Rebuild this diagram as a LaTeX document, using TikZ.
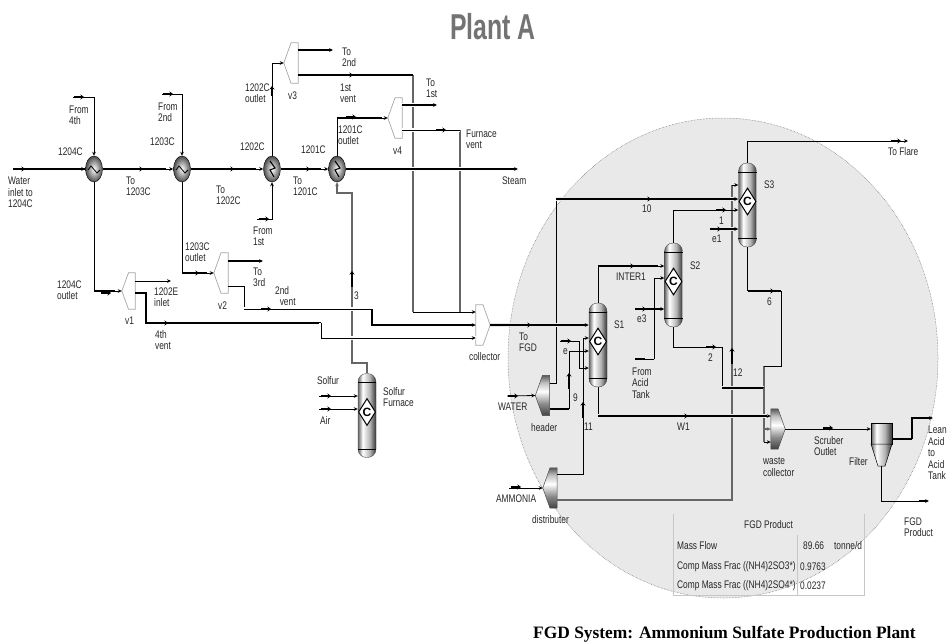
\documentclass[tikz,border=0pt]{standalone}
\usepackage{fontspec}
\setmainfont{Liberation Sans}
\newfontfamily\capfont{Liberation Serif}
\usetikzlibrary{arrows.meta}
\usetikzlibrary{calc}
\usetikzlibrary{shapes.geometric}
\definecolor{plantgrey}{HTML}{E9E9E9}
\pgfdeclarehorizontalshading{towershade}{100bp}{color(0bp)=(black!60);color(25bp)=(black!60);color(38bp)=(white);color(58bp)=(black!30);color(75bp)=(black!80);color(100bp)=(black!80)}
\pgfdeclareverticalshading{bandshade}{100bp}{color(0bp)=(black!75);color(25bp)=(black!75);color(40bp)=(black!45);color(55bp)=(white);color(66bp)=(black!25);color(75bp)=(black!65);color(100bp)=(black!65)}
\tikzset{
  >={Stealth[length=4pt,width=3.6pt]},
  pipe/.style={line width=0.8pt, color=black},
  heavy/.style={line width=1.7pt, color=black},
  greypipe/.style={line width=1.1pt, color=black!60},
  over/.style={preaction={draw=white, line width=3.4pt, arrows=-}},
  overg/.style={preaction={draw=plantgrey, line width=3.4pt, arrows=-}},
  lab/.style={anchor=west, inner sep=0pt, align=left, xscale=0.76, font=\fontsize{11}{11.4}\selectfont, text=black!85},
  tower/.style={draw=black!70, shading=towershade, rounded corners=8.5pt, minimum width=18pt, minimum height=84pt, inner sep=0pt},
  ctag/.style={diamond, draw=black, line width=1pt, fill=white, minimum width=17pt, minimum height=27pt, inner sep=0pt, font=\bfseries\fontsize{12}{12}\selectfont},
  exchanger/.style={ellipse, draw=black, inner color=white, outer color=black!70, minimum width=17pt, minimum height=26pt, inner sep=0pt},
  box/.style={minimum width=14pt, minimum height=40pt, inner sep=0pt},
  valvebody/.style={draw=black!35, line width=0.7pt, fill=white},
  vessel/.style={draw=black!70, line width=0.5pt, shading=bandshade},
  flow/.pic={\draw[line width=2pt, -{Stealth[length=3.5pt,width=5pt]}] (-9,0) -- (1,0);},
  flowlong/.pic={\draw[line width=1.7pt, -{Stealth[length=3.5pt,width=5pt]}] (-16,0) -- (0,0);}
}
\begin{document}
\begin{tikzpicture}[x=1pt,y=-1pt]
  \useasboundingbox (0,0) rectangle (947,642);

  % gas scrubbing area
  \draw[fill=plantgrey, draw=black!60, line width=0.5pt, densely dotted] (723,358) ellipse (215 and 240);
  \draw[color=black!22, line width=0.6pt] (673,514) -- (673,595) -- (864,595) -- (864,514);
  \draw[color=black!22, line width=0.6pt] (797,535) -- (797,595);

  % units
  \node[exchanger] (e1204) at (94,169) {};
  \node[exchanger] (e1203) at (182,169) {};
  \node[exchanger] (e1202) at (272,169) {};
  \node[exchanger] (e1201) at (337,169) {};
  \foreach \n in {e1204,e1203}
    \draw[line width=0.8pt] ($(\n)+(-6,1)$) -- ++(3,-4) -- ++(6,7) -- ++(3,-3);
  \foreach \n in {e1202,e1201}
    \draw[line width=1.1pt] ($(\n)+(-2,-8)$) -- ++(5,7) -- ++(-5,2) -- ++(4,7);

  \node[box, minimum width=13pt, minimum height=36pt] (v1) at (128.5,291) {};
  \node[box] (v2) at (221,273) {};
  \node[box] (v3) at (291,63) {};
  \node[box] (v4) at (395,118) {};
  \foreach \n in {v1,v2,v3,v4}
    \draw[valvebody] (\n.west) -- ($(\n.north west)!.5!(\n.north east)$) -- (\n.north east)
      -- (\n.south east) -- ($(\n.south west)!.5!(\n.south east)$) -- cycle;
  \node[box] (collector) at (483,325) {};
  \draw[valvebody] (collector.east) -- ($(collector.north west)!.5!(collector.north east)$) -- (collector.north west)
      -- (collector.south west) -- ($(collector.south west)!.5!(collector.south east)$) -- cycle;

  \node[box] (header) at (542.5,395.5) {};
  \node[box] (distributer) at (550,488) {};
  \foreach \n in {header,distributer}
    \draw[vessel] (\n.west) -- ($(\n.north west)!.5!(\n.north east)$) -- (\n.north east)
      -- (\n.south east) -- ($(\n.south west)!.5!(\n.south east)$) -- cycle;
  \node[box] (wastecol) at (778,429) {};
  \draw[vessel] (wastecol.east) -- ($(wastecol.north west)!.5!(wastecol.north east)$) -- (wastecol.north west)
      -- (wastecol.south west) -- ($(wastecol.south west)!.5!(wastecol.south east)$) -- cycle;

  \node[tower] (s1) at (598,345) {};
  \node[tower] (s2) at (673.5,285) {};
  \node[tower] (s3) at (747.5,205) {};
  \node[tower] (furnace) at (367,415.5) {};
  \foreach \n in {s1,s2,s3,furnace} {
    \draw[color=black] ($(\n.north west)+(0,9)$) -- ($(\n.north east)+(0,9)$);
    \draw[color=black] ($(\n.south west)+(0,-9)$) -- ($(\n.south east)+(0,-9)$);
    \node[ctag] (\n-c) at ($(\n)+(0,-3.5)$) {C};
  }

  \node[minimum width=21pt, minimum height=43pt, inner sep=0pt] (filter) at (881.5,444.5) {};
  \draw[draw=black, line width=0.5pt, shading=towershade] (871,423) rectangle (892,444);
  \draw[draw=black, line width=0.5pt, shading=towershade] (871,444) -- (892,444) -- (885,466) -- (878,466) -- cycle;

  % free ends and bends
  \coordinate (waterin) at (13,169);
  \coordinate (steamout) at (518,169);
  \coordinate (from4th) at (73,97);
  \coordinate (from2nd) at (162,94);
  \coordinate (from1st) at (257,219);
  \coordinate (to2nd) at (333,50);
  \coordinate (to1st) at (437,105);
  \coordinate (to3rd) at (263,261);
  \coordinate (to1202e) at (171,281);
  \coordinate (b4th) at (146,323);
  \coordinate (b4thb) at (321,323);
  \coordinate (b2nd) at (244,309);
  \coordinate (b2ndb) at (372,309);
  \coordinate (b1st) at (413,75);
  \coordinate (bvent) at (460,130);
  \coordinate (b3low) at (352,363);
  \coordinate (b3up) at (352,193);
  \coordinate (solfurin) at (319,396);
  \coordinate (airin) at (319,409);
  \coordinate (waterfeed) at (507,396);
  \coordinate (ammfeed) at (509,488);
  \coordinate (b10) at (556,199);
  \coordinate (b9) at (569,409);
  \coordinate (b9up) at (569,387);
  \coordinate (b11) at (583,338);
  \coordinate (b12) at (732,185);
  \coordinate (efeed) at (560,341);
  \coordinate (be) at (579,341);
  \coordinate (e3feed) at (635,309);
  \coordinate (acidfeed) at (635,359);
  \coordinate (bacid) at (654,359);
  \coordinate (e1feed) at (710,229);
  \coordinate (b1) at (673.5,210);
  \coordinate (binter) at (598,266);
  \coordinate (b2a) at (722,347);
  \coordinate (b2b) at (764,388);
  \coordinate (b6a) at (781,291);
  \coordinate (b6c) at (747.5,291);
  \coordinate (b6b) at (764,366);
  \coordinate (bw1) at (598,416);
  \coordinate (toflare) at (908,141);
  \coordinate (blean) at (912,439);
  \coordinate (leanout) at (933,418);
  \coordinate (fgdout) at (929,501);
  \coordinate (coltop) at ($(collector.west)+(0,-13)$);
  \coordinate (colbot) at ($(collector.west)+(0,13)$);
  \coordinate (wasteup) at ($(wastecol.west)+(0,-13)$);
  \coordinate (wastedn) at ($(wastecol.west)+(0,13)$);

  % streams running under the others
  \draw[greypipe,->] (furnace.north) |- (b3low) -- (b3up) -| (e1201.south);
  \draw[greypipe] (b1st) -- (coltop -| b1st);
  \draw[pipe,->] (coltop -| b1st) -- (coltop);
  \draw[greypipe] (bvent) -- (coltop -| bvent);
  \draw[pipe] (e1204.south) -- (e1204.south |- v1);
  \draw[pipe] (e1203.south) -- (e1203.south |- v2);
  \draw[pipe] ($(header.east)+(0,-12.5)$) -| (b10);
  \draw[pipe] ($(distributer.east)+(0,-14)$) -| (b11);
  \draw[pipe,->] (b11) -- ($(s1.west)+(0,-7)$);
  \draw[greypipe] ($(distributer.east)+(0,12)$) -| (b12);
  \draw[pipe,->] (b12) -- ($(s3.west)+(0,-20)$);
  \draw[heavy] (acidfeed) -- ++(10,0);
  \draw[pipe] (acidfeed) -- (bacid);
  \draw[pipe,->] (bacid) |- ($(s2.west)+(0,-7)$);
  \draw[greypipe] (b6b) -- (wastedn -| b6b);

  % main line
  \draw[heavy] (waterin) -- (e1204.west);
  \draw[pipe,->] ($(e1204.west)+(-9,0)$) -- (e1204.west);
  \draw[heavy] (e1204.east) -- ($(e1203.west)+(-7,0)$);
  \draw[pipe,->] ($(e1203.west)+(-8,0)$) -- (e1203.west);
  \draw[heavy] (e1203.east) -- ($(e1202.west)+(-7,0)$);
  \draw[pipe,->] ($(e1202.west)+(-8,0)$) -- (e1202.west);
  \draw[heavy] (e1202.east) -- ($(e1201.west)+(-7,0)$);
  \draw[pipe,->] ($(e1201.west)+(-8,0)$) -- (e1201.west);
  \draw[heavy,->,over] (e1201.east) -- (steamout);

  \draw[pipe,->] (from4th) -| (e1204.north);
  \draw[pipe,->] (from2nd) -| (e1203.north);
  \draw[pipe,->] (from1st) -| (e1202.south);
  \draw[pipe,->] (e1202.north) |- (v3.west);
  \draw[pipe] (e1201.north) |- ($(v4.west)+(-6,0)$);
  \draw[heavy] (e1201.north |- v4.west) -- ($(v4.west)+(-6,0)$);
  \draw[pipe,->] ($(v4.west)+(-7,0)$) -- (v4.west);

  % vents
  \draw[heavy] (e1204.south |- v1) -- ($(v1.west)+(-7,0)$);
  \draw[pipe,->] ($(v1.west)+(-8,0)$) -- (v1.west);
  \draw[heavy] (e1203.south |- v2) -- ($(v2.west)+(-7,0)$);
  \draw[pipe,->] ($(v2.west)+(-8,0)$) -- (v2.west);
  \draw[heavy,->] ($(v3.east)+(0,-13)$) -- (to2nd);
  \draw[heavy] ($(v3.east)+(0,12)$) -- (b1st);
  \draw[heavy,->,over] ($(v4.east)+(0,-13)$) -- (to1st);
  \draw[pipe,over] ($(v4.east)+(0,12)$) -- (bvent);
  \draw[pipe,->] ($(v1.east)+(0,-10)$) -- (to1202e);
  \draw[heavy] ($(v1.east)+(0,2)$) -| (b4th) -- (b4thb);
  \draw[pipe,->,over] (b4thb) |- (colbot);
  \draw[heavy,->] ($(v2.east)+(0,-12)$) -- (to3rd);
  \draw[pipe] ($(v2.east)+(0,13)$) -| (b2nd);
  \draw[pipe,over] (b2nd) -- (b2ndb);
  \draw[heavy,->] (b2ndb) |- (collector.west);

  % scrubber side
  \draw[pipe,->] (solfurin) -- ($(furnace.west)+(0,-19.5)$);
  \draw[pipe,->] (airin) -- ($(furnace.west)+(0,-6.5)$);
  \draw[pipe,->] (waterfeed) -- (header.west);
  \draw[pipe,->] (ammfeed) -- (distributer.west);
  \draw[heavy,->,overg] (collector.east) -- ($(s1.west)+(0,-20)$);
  \draw[heavy,->,overg] (b10) -- ($(s3.west)+(0,-6)$);
  \draw[pipe,->] (efeed) -- (be) |- ($(s1.west)+(0,23)$);
  \draw[heavy] ($(header.east)+(0,13.5)$) -| (b9);
  \draw[pipe,->] (b9) |- ($(s1.west)+(0,6)$);
  \draw[pipe,->] (s2.north) -- (b1) -- ($(s3.west)+(0,5)$);
  \draw[heavy,->,overg] (e1feed) -- ($(s3.west)+(0,24)$);
  \draw[pipe] (s1.north) -- (binter);
  \draw[heavy] (binter) -- ($(s2.west)+(-6,-19)$);
  \draw[pipe,->] ($(s2.west)+(-7,-19)$) -- ($(s2.west)+(0,-19)$);
  \draw[heavy,->] (e3feed) -- ($(s2.west)+(0,24)$);
  \draw[pipe] (s2.south) |- (b2a) |- (b2b);
  \draw[heavy,overg] (b2a |- b2b) -- (b2b);
  \draw[greypipe,->] (b2b) |- (wastecol.west);
  \draw[pipe] (s3.south) -- (b6c);
  \draw[heavy] (b6c) -- (b6a);
  \draw[pipe] (b6a) |- (b6b);
  \draw[pipe,->] (wastedn -| b6b) -- (wastedn);
  \draw[pipe] (s1.south) -- (bw1);
  \draw[heavy,overg] (bw1) -- ($(wasteup)+(-4,0)$);
  \draw[pipe,->] ($(wasteup)+(-5,0)$) -- (wasteup);
  \draw[pipe,->] (s3.north) |- (toflare);
  \draw[pipe,->] (wastecol.east) -- (wastecol.east -| filter.west);
  \draw[heavy] ($(filter.east)+(0,-5.5)$) -- (blean);
  \draw[heavy,->] (blean) |- (leanout);
  \draw[pipe] (filter.south) |- ($(fgdout)+(-8,0)$);
  \draw[heavy,->] ($(fgdout)+(-10,0)$) -- (fgdout);

  % flow marks
  \foreach \x/\y in {24/169,142/169,233/169,309/169,83/97,172/94,268/219,352/75,355/117,445/130,
    110/293,167/323,198/273,270/309,330/396,330/409,530/325,650/199,633/266,517/396,520/487,
    570/341,645/309,725/210,720/229,715/347,773/291,687/416,832/428,900/141}
    \pic at (\x,\y) {flow};
  \foreach \x/\y in {352/271,569/373,583/402,732/348}
    \pic[rotate=90] at (\x,\y) {flowlong};
  \pic[rotate=90] at (272,87) {flow};

  % labels
  \node[lab] (lwater) at (8,192.5) {Water\\inlet to\\1204C};
  \node[lab] (lfrom4) at (69,115) {From\\4th};
  \node[lab] (l1204) at (58,152) {1204C};
  \node[lab] (lto1203) at (126,186.5) {To\\1203C};
  \node[lab] (lfrom2) at (158,112) {From\\2nd};
  \node[lab] (l1203) at (150,142) {1203C};
  \node[lab] (lto1202) at (216,195) {To\\1202C};
  \node[lab] (l1202) at (240,147) {1202C};
  \node[lab] (l1202out) at (245,93) {1202C\\outlet};
  \node[lab] (lv3) at (288,96) {v3};
  \node[lab] (lto2nd) at (342,57) {To\\2nd};
  \node[lab] (l1stvent) at (340,93) {1st\\vent};
  \node[lab] (lto1st) at (426,88) {To\\1st};
  \node[lab] (l1201out) at (338,135) {1201C\\outlet};
  \node[lab] (lv4) at (393,151) {v4};
  \node[lab] (l1201) at (301,150) {1201C};
  \node[lab] (lto1201) at (293,186.5) {To\\1201C};
  \node[lab] (lfurnvent) at (466,139) {Furnace\\vent};
  \node[lab] (lsteam) at (502,181) {Steam};
  \node[lab] (lfrom1) at (253,236) {From\\1st};
  \node[lab] (l1204out) at (57,290) {1204C\\outlet};
  \node[lab] (l1202e) at (154,297) {1202E\\inlet};
  \node[lab] (l4th) at (155,340) {4th\\vent};
  \node[lab] (lv1) at (125,321) {v1};
  \node[lab] (l1203out) at (185,252) {1203C\\outlet};
  \node[lab] (lto3rd) at (253,277) {To\\3rd};
  \node[lab] (lv2) at (218,306) {v2};
  \node[lab] (l2nd) at (275,296) {2nd\\\ \ vent};
  \node[lab] (l3) at (354,296) {3};
  \node[lab] (lcollector) at (469,357) {collector};
  \node[lab] (lsolfur) at (317,381) {Solfur};
  \node[lab] (lair) at (320,421) {Air};
  \node[lab] (lfurnace) at (383,397) {Solfur\\Furnace};
  \node[lab] (l10) at (642,209) {10};
  \node[lab] (ls3) at (764,185) {S3};
  \node[lab] (l1) at (719,221) {1};
  \node[lab] (le1) at (712,239) {e1};
  \node[lab] (ls2) at (690,266) {S2};
  \node[lab] (linter) at (616,277) {INTER1};
  \node[lab] (le3) at (637,319) {e3};
  \node[lab] (ls1) at (614,325) {S1};
  \node[lab] (ltofgd) at (519,342.5) {To\\FGD};
  \node[lab] (le) at (563,352) {e};
  \node[lab] (l9) at (573,398) {9};
  \node[lab] (lwaterfeed) at (498,407) {WATER};
  \node[lab] (lheader) at (531,428) {header};
  \node[lab] (l11) at (584,427) {11};
  \node[lab] (lacid) at (632,383) {From\\Acid\\Tank};
  \node[lab] (l2) at (708,358) {2};
  \node[lab] (l12) at (733,373) {12};
  \node[lab] (lw1) at (677,427) {W1};
  \node[lab] (lwaste) at (763,467) {waste\\collector};
  \node[lab] (lamm) at (496,499) {AMMONIA};
  \node[lab] (ldistr) at (532,520) {distributer};
  \node[lab] (l6) at (767,302) {6};
  \node[lab] (lflare) at (888,152) {To Flare};
  \node[lab] (lscrub) at (814,446) {Scruber\\Outlet};
  \node[lab] (lfilter) at (849,462) {Filter};
  \node[lab] (llean) at (928,453) {Lean\\Acid\\to\\Acid\\Tank};
  \node[lab] (lfgd) at (904,527) {FGD\\Product};

  % product table
  \node[lab] (tfgd) at (744,525) {FGD Product};
  \node[lab] (tflow) at (677,546) {Mass Flow};
  \node[lab] (tflowv) at (803,546) {89.66};
  \node[lab] (tflowu) at (834,546) {tonne/d};
  \node[lab] (tso3) at (677,567) {Comp Mass Frac ((NH4)2SO3*)};
  \node[lab] (tso3v) at (800,567) {0.9763};
  \node[lab] (tso4) at (677,586) {Comp Mass Frac ((NH4)2SO4*)};
  \node[lab] (tso4v) at (800,586) {0.0237};

  \node[inner sep=0pt, text=black!55, xscale=0.69, font=\bfseries\fontsize{36}{36}\selectfont] (title) at (493,27) {Plant A};
  \node[anchor=west, inner sep=0pt, font=\capfont\bfseries\fontsize{17.4}{17.4}\selectfont] (caption) at (533,634) {FGD System: Ammonium Sulfate Production Plant};
\end{tikzpicture}
\end{document}
